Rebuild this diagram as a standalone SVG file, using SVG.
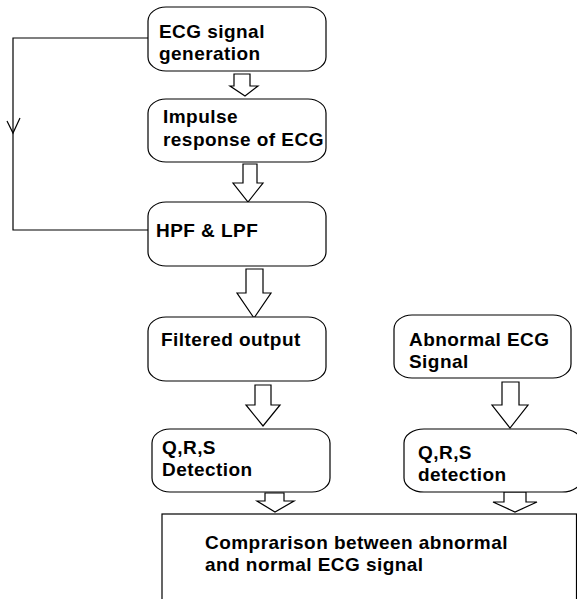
<svg xmlns="http://www.w3.org/2000/svg" width="577" height="599" viewBox="0 0 577 599">
<style>
.box{fill:#fff;stroke:#000;stroke-width:1.2}
.arr{fill:#fff;stroke:#000;stroke-width:1.2;stroke-linejoin:miter}
.line{fill:none;stroke:#000;stroke-width:1.2}
text{font-family:"Liberation Sans",Arial,sans-serif;font-weight:bold;font-size:19px;letter-spacing:0.45px;fill:#000}
</style>
<rect width="577" height="599" fill="#fff"/>
<g id="connectors">
<path class="line" d="M148,38 H13 V230 H148"/>
<path class="line" d="M7,121 L13,133 L20,118"/>
<path class="arr" d="M234,74 H250 V86 H258 L245,96 L230,86 H234 Z"/>
<path class="arr" d="M243,164 H257 V183 H263 L248,202 L233,183 H243 Z"/>
<path class="arr" d="M246,269 H263 V293 H271 L254,318 L237,293 H246 Z"/>
<path class="arr" d="M255,385 H271 V405 H280 L263,426 L246,405 H255 Z"/>
<path class="arr" d="M502,382 H519 V405 H528 L510,428 L492,405 H502 Z"/>
<path class="arr" d="M265,493 H284 V501 H294 L275,512 L257,501 H265 Z"/>
<path class="arr" d="M504,492 H526 V502 H537 L515,512 L493,502 H504 Z"/>
</g>
<g id="n1">
<rect class="box" x="148" y="7" width="178" height="64" rx="18" ry="14"/>
<text x="159" y="38">ECG signal</text>
<text x="159" y="60">generation</text>
</g>
<g id="n2">
<rect class="box" x="148" y="99" width="178" height="63" rx="18" ry="14"/>
<text x="163" y="123">Impulse</text>
<text x="163" y="146">response of ECG</text>
</g>
<g id="n3">
<rect class="box" x="148" y="202" width="178" height="64" rx="18" ry="14"/>
<text x="156" y="237">HPF &amp; LPF</text>
</g>
<g id="n4">
<rect class="box" x="148" y="317" width="178" height="64" rx="18" ry="14"/>
<text x="161" y="346">Filtered output</text>
</g>
<g id="n5">
<rect class="box" x="394" y="315" width="177" height="63" rx="18" ry="14"/>
<text x="409" y="346">Abnormal ECG</text>
<text x="409" y="368">Signal</text>
</g>
<g id="n6">
<rect class="box" x="152" y="429" width="178" height="63" rx="18" ry="14"/>
<text x="162" y="454">Q,R,S</text>
<text x="162" y="476">Detection</text>
</g>
<g id="n7">
<rect class="box" x="404" y="429" width="178" height="63" rx="20" ry="14"/>
<text x="418" y="459">Q,R,S</text>
<text x="418" y="481">detection</text>
</g>
<g id="n8">
<rect class="box" x="162" y="514" width="414.5" height="100"/>
<text x="205" y="549">Comprarison between abnormal</text>
<text x="205" y="571">and normal ECG signal</text>
</g>
</svg>
